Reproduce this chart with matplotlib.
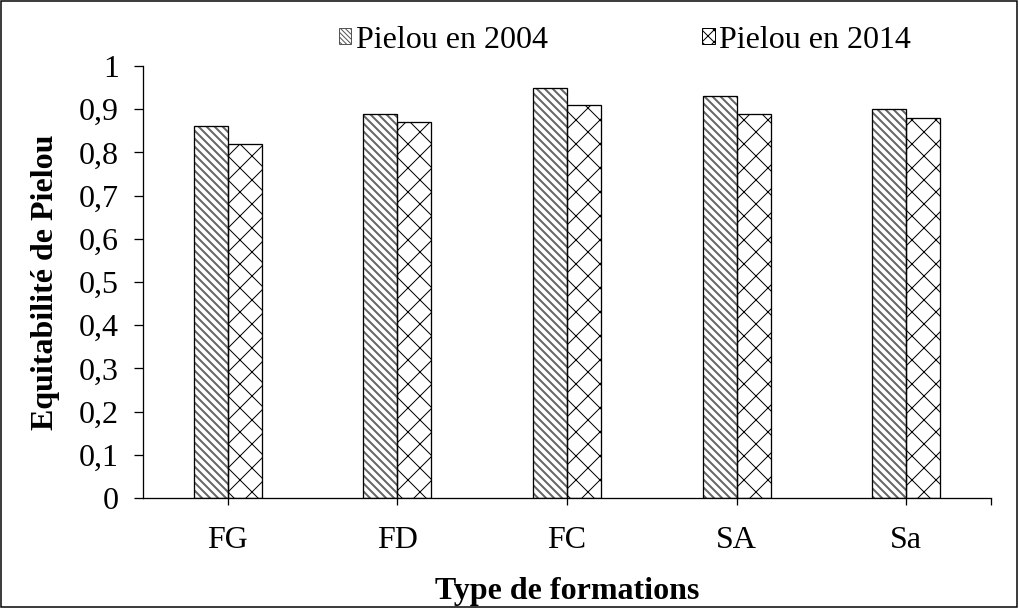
import numpy as np
import matplotlib
matplotlib.use("Agg")
import matplotlib.pyplot as plt
from matplotlib.patches import Patch, Rectangle

categories = ["FG", "FD", "FC", "SA", "Sa"]
pielou_2004 = [0.86, 0.89, 0.95, 0.93, 0.90]
pielou_2014 = [0.82, 0.87, 0.91, 0.89, 0.88]
yticks = [0, 0.1, 0.2, 0.3, 0.4, 0.5, 0.6, 0.7, 0.8, 0.9, 1]
ytick_labels = ["0", "0,1", "0,2", "0,3", "0,4", "0,5", "0,6", "0,7", "0,8", "0,9", "1"]

plt.rcParams["font.family"] = ["Liberation Serif", "DejaVu Serif"]

DPI = 72
FS = 32
fig = plt.figure(figsize=(1019 / DPI, 608 / DPI), dpi=DPI)
ax = fig.add_axes([143 / 1019, 1 - 498 / 608, (991 - 143) / 1019, (498 - 66) / 608])

x = np.arange(len(categories))
w = 0.2

# 2004 : thick grey stripes, black outline drawn on top
with plt.rc_context({"hatch.linewidth": 2.0}):
    ax.bar(x - w / 2, pielou_2004, w, color="white", edgecolor="#666666",
           hatch="\\\\\\", linewidth=0, zorder=2)
    h2004 = Patch(facecolor="white", edgecolor="#555555", hatch="\\\\\\\\\\", linewidth=1)
ax.bar(x - w / 2, pielou_2004, w, fill=False, edgecolor="black", linewidth=1.3, zorder=3)

# 2014 : lattice
with plt.rc_context({"hatch.linewidth": 1.0}):
    ax.bar(x + w / 2, pielou_2014, w, color="white", edgecolor="black",
           hatch="x", linewidth=1.3, zorder=2)
    h2014 = Patch(facecolor="white", edgecolor="black", hatch="xx", linewidth=1)

ax.set_xlim(-0.5, len(categories) - 0.5)
ax.set_ylim(0, 1)
ax.set_yticks(yticks)
ax.set_yticklabels(ytick_labels)
ax.set_xticks(x)
ax.set_xticklabels(categories)
ax.set_xticks([len(categories) - 0.5], minor=True)

for s in ["top", "right"]:
    ax.spines[s].set_visible(False)
for s in ["left", "bottom"]:
    ax.spines[s].set_linewidth(1.3)

ax.tick_params(axis="y", direction="out", length=9, width=1.3, pad=15, labelsize=FS)
ax.tick_params(axis="x", direction="out", length=7, width=1.3, pad=21, labelsize=FS)
ax.tick_params(axis="x", which="minor", direction="out", length=7, width=1.3)

ax.set_ylabel("Equitabilité de Pielou", fontsize=FS, fontweight="bold", labelpad=19)
ax.set_xlabel("Type de formations", fontsize=FS, fontweight="bold", labelpad=22)

fig.legend([h2004, h2014], ["Pielou en 2004", "Pielou en 2014"], loc="center",
           bbox_to_anchor=(625 / 1019, 1 - 40 / 608), ncol=2, frameon=False,
           fontsize=FS, handlelength=0.4, handleheight=0.4, handletextpad=0.15,
           columnspacing=4.8)

fig.add_artist(Rectangle((0.001, 0.001), 0.997, 0.997, transform=fig.transFigure,
                         fill=False, edgecolor="black", linewidth=1.5))

fig.savefig("out.png", dpi=DPI)
